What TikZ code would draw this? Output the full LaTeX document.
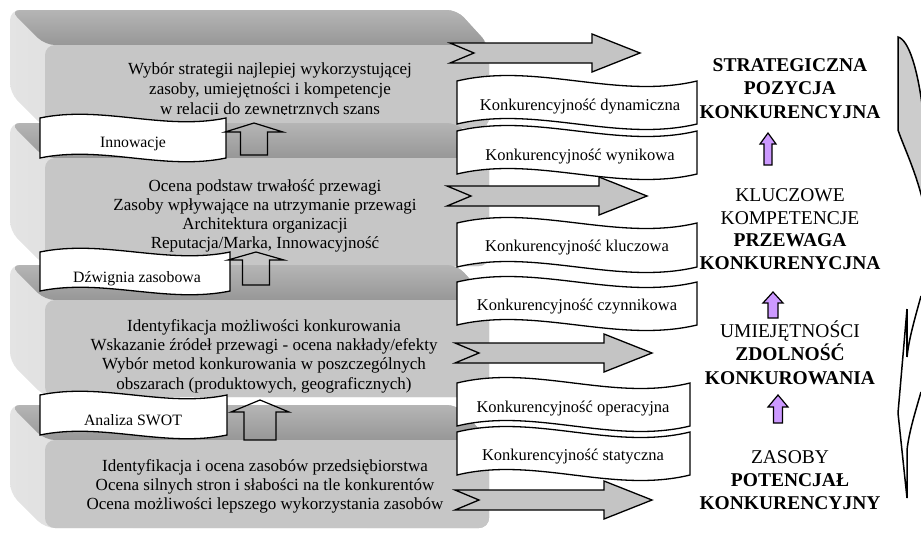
\documentclass[tikz,border=0pt]{standalone}
\usepackage{fontspec}
\setmainfont{Liberation Serif}
\definecolor{bandtop}{HTML}{B5B5B5}
\definecolor{bandbot}{HTML}{979797}
\definecolor{bevleft}{HTML}{E4E4E4}
\definecolor{bevright}{HTML}{BBBBBB}
\definecolor{faceC}{HTML}{C6C6C6}
\definecolor{arrowgrey}{HTML}{C4C4C4}
\definecolor{violetfill}{HTML}{CC99FF}
\definecolor{bracegrey}{HTML}{CCCCCC}

% 3D bevelled slab: face from y=#1 to y=#2, extruded 35 left and 35 up
\newcommand\bevelblock[2]{%
  \shade[left color=bevleft, right color=bevright, rounded corners=10pt]
    (10,{#1-35}) -- (457,{#1-35}) -- (489,#1) -- (489,#2) -- (45,#2) -- (10,{#2-35}) -- cycle;
  \shade[top color=bandtop, bottom color=bandbot, rounded corners=10pt]
    (10,{#1-35}) -- (457,{#1-35}) -- (489,#1) -- (45,#1) -- cycle;
  \fill[faceC, rounded corners=10pt] (45,#1) rectangle (489,#2);
}
% wavy banner: left x, top y, right x, bottom y, amplitude
\newcommand\wavebanner[5]{%
  \draw[banner] (#1,#2) .. controls ({#1+(#3-#1)/3},{#2-#5}) and ({#1+2*(#3-#1)/3},{#2+#5}) .. (#3,#2)
    -- (#3,#4) .. controls ({#1+2*(#3-#1)/3},{#4+#5}) and ({#1+(#3-#1)/3},{#4-#5}) .. (#1,#4) -- cycle;
}
% notched block arrow pointing right: tail x, tip x, centre y
\newcommand\notchedarrow[3]{%
  \draw[greyarrow] (#1,{#3-10}) -- ({#2-48},{#3-10}) -- ({#2-48},{#3-19}) -- (#2,#3)
    -- ({#2-48},{#3+19}) -- ({#2-48},{#3+10}) -- (#1,{#3+10}) -- ({#1+24},#3) -- cycle;
}
% block arrow pointing up: centre x, tip y, head base y, bottom y, head half width, shaft half width, style
\newcommand\blockup[7]{%
  \draw[#7] ({#1-#6},#4) -- ({#1-#6},#3) -- ({#1-#5},#3) -- (#1,#2) -- ({#1+#5},#3)
    -- ({#1+#6},#3) -- ({#1+#6},#4) -- cycle;
}

\begin{document}
\begin{tikzpicture}[x=1pt,y=-1pt,
  banner/.style={draw=black, fill=white, line width=1.3pt},
  greyarrow/.style={draw=black, fill=arrowgrey, line width=1.3pt, line join=miter},
  hollowarrow/.style={draw=black, line width=1.2pt, line join=miter},
  violetarrow/.style={draw=black, fill=violetfill, line width=1.2pt, line join=miter},
  bracepart/.style={draw=black, line width=1.5pt},
  blocktxt/.style={font=\fontsize{17}{19.5}\selectfont, anchor=base, inner sep=0pt},
  bantxt/.style={font=\fontsize{16.5}{19}\selectfont, anchor=base, inner sep=0pt},
  lbantxt/.style={font=\fontsize{15.8}{19}\selectfont, anchor=base, inner sep=0pt},
  coltxt/.style={font=\fontsize{19.5}{23}\selectfont, anchor=base, inner sep=0pt},
  colbold/.style={font=\fontsize{19.5}{23}\selectfont\bfseries, anchor=base, inner sep=0pt}]

\useasboundingbox (0,0) rectangle (921,533);
\begin{scope}
\clip (0,0) rectangle (921,533);

% four stacked slabs
\bevelblock{45}{128}
\bevelblock{158}{266}
\bevelblock{300}{397}
\bevelblock{440}{528}

% slab texts
\node[blocktxt] (s1a) at (270,74) {Wybór strategii najlepiej wykorzystującej};
\node[blocktxt] (s1b) at (270,94) {zasoby, umiejętności i kompetencje};
\begin{scope}
  \clip (40,100) rectangle (489,114.8);
  \node[blocktxt] (s1c) at (270,114) {w relacji do zewnętrznych szans};
\end{scope}

\node[blocktxt] (s2a) at (265,191) {Ocena podstaw trwałość przewagi};
\node[blocktxt] (s2b) at (265,210.5) {Zasoby wpływające na utrzymanie przewagi};
\node[blocktxt] (s2c) at (265,229.5) {Architektura organizacji};
\node[blocktxt] (s2d) at (265,248.5) {Reputacja/Marka, Innowacyjność};

\node[blocktxt] (s3a) at (264,331) {Identyfikacja możliwości konkurowania};
\node[blocktxt] (s3b) at (264,350) {Wskazanie źródeł przewagi - ocena nakłady/efekty};
\node[blocktxt] (s3c) at (264,369.5) {Wybór metod konkurowania w poszczególnych};
\node[blocktxt] (s3d) at (264,389) {obszarach (produktowych, geograficznych)};

\node[blocktxt] (s4a) at (265,471) {Identyfikacja i ocena zasobów przedsiębiorstwa};
\node[blocktxt] (s4b) at (265,490) {Ocena silnych stron i słabości na tle konkurentów};
\node[blocktxt] (s4c) at (265,509) {Ocena możliwości lepszego wykorzystania zasobów};

% left banners with hollow up arrows
\wavebanner{40}{118}{226}{158}{13}
\node[lbantxt] (innow) at (133,147.5) {Innowacje};
\blockup{254}{123}{132}{155}{29}{13.5}{hollowarrow}

\wavebanner{40}{252}{230}{291}{13}
\node[lbantxt] (dzwig) at (137,282.5) {Dźwignia zasobowa};
\blockup{256}{252}{260}{285}{28}{13.5}{hollowarrow}

\wavebanner{40}{395}{227}{435}{13}
\node[lbantxt] (swot) at (133,425.5) {Analiza SWOT};
\blockup{260}{400}{412}{440}{29}{16}{hollowarrow}

% grey arrows towards the right-hand column
\notchedarrow{450}{640}{53}
\notchedarrow{447}{647}{196}
\notchedarrow{455}{652}{353}
\notchedarrow{455}{652}{500}

% competitiveness banners
\wavebanner{457}{81}{697}{124}{19}
\node[bantxt] (kdyn) at (580,110.5) {Konkurencyjność dynamiczna};
\wavebanner{457}{131}{697}{174}{19}
\node[bantxt] (kwyn) at (580,160.5) {Konkurencyjność wynikowa};
\wavebanner{457}{223}{697}{267}{19}
\node[bantxt] (kklu) at (577,251.5) {Konkurencyjność kluczowa};
\wavebanner{457}{282}{697}{325}{19}
\node[bantxt] (kczy) at (577,310.5) {Konkurencyjność czynnikowa};
\wavebanner{457}{383}{690}{426}{19}
\node[bantxt] (kope) at (573,412.5) {Konkurencyjność operacyjna};
\wavebanner{457}{432}{690}{475}{19}
\node[bantxt] (ksta) at (573,460.5) {Konkurencyjność statyczna};

% right-hand column
\node[colbold] (c1a) at (790,71.5) {STRATEGICZNA};
\node[colbold] (c1b) at (790,94.5) {POZYCJA};
\node[colbold] (c1c) at (790,118.5) {KONKURENCYJNA};
\blockup{768}{133}{144}{165}{8}{4}{violetarrow}

\node[coltxt] (c2a) at (790,201.5) {KLUCZOWE};
\node[coltxt] (c2b) at (790,224) {KOMPETENCJE};
\node[colbold] (c2c) at (790,246.5) {PRZEWAGA};
\node[colbold] (c2d) at (790,269.5) {KONKURENYCJNA};
\blockup{773}{292}{303}{318}{10}{5}{violetarrow}

\node[coltxt] (c3a) at (790,337) {UMIEJĘTNOŚCI};
\node[colbold] (c3b) at (790,360.5) {ZDOLNOŚĆ};
\node[colbold] (c3c) at (790,384) {KONKUROWANIA};
\blockup{778}{395}{407}{423}{10}{4.5}{violetarrow}

\node[coltxt] (c4a) at (790,463.5) {ZASOBY};
\node[colbold] (c4b) at (790,486.5) {POTENCJAŁ};
\node[colbold] (c4c) at (790,509.5) {KONKURENCYJNY};

% curved bracket along the right edge
\draw[bracepart, fill=bracegrey] (898,37) .. controls (909,40) and (918,70) .. (923,112)
  -- (926,215) .. controls (918,175) and (904,148) .. (898,130) -- cycle;
\draw[bracepart] (921,296) .. controls (915,318) and (909,338) .. (907,357);
\draw[bracepart] (907,309) -- (907,357);
\draw[bracepart] (907,450) -- (907,498) -- (898,413) -- (907,309);
\draw[bracepart] (921,392) .. controls (915,413) and (909,432) .. (907,450);
\end{scope}
\end{tikzpicture}
\end{document}
